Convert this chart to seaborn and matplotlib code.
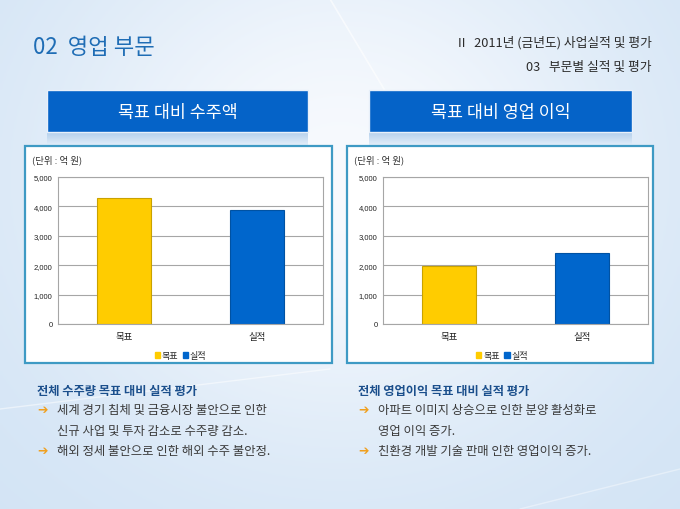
import matplotlib
matplotlib.use("Agg")
import matplotlib.pyplot as plt
import matplotlib.patches as mpatches
import numpy as np
import pandas as pd
import seaborn as sb

# chart data
categories = ["목표", "실적"]
orders = [4270, 3870]      # 목표 대비 수주액
profit = [1980, 2400]      # 목표 대비 영업 이익
y_ticks = [0, 1000, 2000, 3000, 4000, 5000]
bar_colors = ["#FFCC00", "#0066CC"]
edge_colors = ["#C9A200", "#0052A3"]

box_titles = ["목표 대비 수주액", "목표 대비 영업 이익"]
page_title = "02  영업 부문"
crumb1 = "II   2011년 (금년도) 사업실적 및 평가"
crumb2 = "03   부문별 실적 및 평가"
notes_left = ["전체 수주량 목표 대비 실적 평가",
              "세계 경기 침체 및 금융시장 불안으로 인한",
              "신규 사업 및 투자 감소로 수주량 감소.",
              "해외 정세 불안으로 인한 해외 수주 불안정."]
notes_right = ["전체 영업이익 목표 대비 실적 평가",
               "아파트 이미지 상승으로 인한 분양 활성화로",
               "영업 이익 증가.",
               "친환경 개발 기술 판매 인한 영업이익 증가."]

sb.set_theme(style="white")
plt.rcParams["font.family"] = ["Noto Sans CJK KR", "DejaVu Sans"]

W, H = 680, 510
fig = plt.figure(figsize=(W / 100, H / 100), dpi=100)

# background in pixel coordinates
bg = fig.add_axes([0, 0, 1, 1])
bg.set_xlim(0, W)
bg.set_ylim(H, 0)
bg.axis("off")
yy, xx = np.mgrid[0:1:200j, 0:1:200j]
glow = np.exp(-(((xx - 0.5) / 0.45) ** 2 + ((yy - 0.35) / 0.55) ** 2))
base = np.array([0.82, 0.89, 0.96])
top = np.array([0.97, 0.98, 0.995])
img = base[None, None, :] * (1 - glow[..., None]) + top[None, None, :] * glow[..., None]
bg.imshow(img, extent=[0, W, H, 0], aspect="auto", zorder=0)
# faint diagonal streaks
bg.plot([330, 420], [0, 150], color="white", lw=1.2, alpha=0.6, zorder=1)
bg.plot([0, 330], [410, 370], color="white", lw=1.0, alpha=0.5, zorder=1)
bg.plot([520, 680], [510, 470], color="white", lw=1.0, alpha=0.4, zorder=1)

bg.text(33, 47, page_title, fontsize=16, color="#1F6DB5", va="center", ha="left")
bg.text(652, 43, crumb1, fontsize=9.2, color="#2B2B2B", va="center", ha="right")
bg.text(652, 67, crumb2, fontsize=9.2, color="#2B2B2B", va="center", ha="right")

panels = [(47, 308, 25, 332, 58, 323, orders), (369, 632, 347, 653, 383, 648, profit)]

for i, (bx0, bx1, px0, px1, ax0, ax1, vals) in enumerate(panels):
    # header box with soft shadow band under it
    shade = np.linspace(0, 1, 50)[:, None, None] * np.ones((50, 2, 1))
    band = np.concatenate([np.array([0.68, 0.80, 0.92]) * (1 - shade) + np.array([0.90, 0.94, 0.98]) * shade,
                           np.ones((50, 2, 1)) * 0.9], axis=2)
    bg.imshow(band, extent=[bx0, bx1, 147, 133], aspect="auto", zorder=2)
    bg.add_patch(mpatches.Rectangle((bx0, 91), bx1 - bx0, 42, facecolor="#0563C8",
                                    edgecolor="#E8F0FA", lw=1.0, zorder=3))
    bg.text((bx0 + bx1) / 2, 113, box_titles[i], fontsize=12.5, color="white",
            ha="center", va="center", zorder=4)
    # white chart panel
    bg.add_patch(mpatches.Rectangle((px0, 147), px1 - px0, 217, facecolor="white",
                                    edgecolor="#3E9AC4", lw=1.6, zorder=3))
    bg.text(px0 + 7, 160, "(단위 : 억 원)", fontsize=6.8, color="#333333",
            ha="left", va="center", zorder=4)

    ax = fig.add_axes([ax0 / W, 1 - 325 / H, (ax1 - ax0) / W, (325 - 178) / H])
    ax.set_zorder(5)
    df = pd.DataFrame({"cat": categories, "val": vals})
    sb.barplot(data=df, x="cat", y="val", hue="cat", palette=bar_colors,
               width=0.41, legend=False, ax=ax, saturation=1)
    for bar, ec in zip(ax.patches, edge_colors):
        bar.set_edgecolor(ec)
        bar.set_linewidth(0.8)
    ax.set_xlim(-0.5, 1.5)
    ax.set_ylim(0, 5000)
    ax.set_yticks(y_ticks)
    ax.set_yticklabels([f"{t:,}" for t in y_ticks], fontsize=5.5, family="Liberation Sans",
                       color="#222222")
    ax.tick_params(axis="x", labelsize=6.8, colors="#222222", pad=6, length=0)
    ax.tick_params(axis="y", pad=4, length=0)
    ax.set_xlabel("")
    ax.set_ylabel("")
    ax.grid(axis="y", color="#A6A6A6", lw=0.8)
    ax.set_axisbelow(True)
    for s in ax.spines.values():
        s.set_color("#A6A6A6")
        s.set_linewidth(0.8)
    ax.set_facecolor("white")

    handles = [mpatches.Patch(facecolor=c, edgecolor=c, label=l)
               for c, l in zip(bar_colors, categories)]
    leg = fig.legend(handles=handles, loc="center",
                     bbox_to_anchor=(((px0 + px1) / 2 + 2) / W, 1 - 357 / H),
                     ncol=2, frameon=False, fontsize=6.5, handlelength=0.6, handleheight=0.6,
                     handletextpad=0.2, columnspacing=0.5, borderpad=0)
    leg.set_zorder(6)

# notes under the charts
for x0, notes in [(37, notes_left), (358, notes_right)]:
    bg.text(x0, 392, notes[0], fontsize=8.8, fontweight="bold", color="#1B4F8C",
            ha="left", va="center", zorder=4)
    rows = [(411, True, notes[1]), (432, False, notes[2]), (452, True, notes[3])]
    for y, arrow, s in rows:
        if arrow:
            bg.text(x0, y, "➔", fontsize=9, color="#F0A020", family="DejaVu Sans",
                    ha="left", va="center", zorder=4)
        bg.text(x0 + 20, y, s, fontsize=8.9, color="#3A3A3A", ha="left", va="center", zorder=4)

fig.savefig("out.png", dpi=100)
